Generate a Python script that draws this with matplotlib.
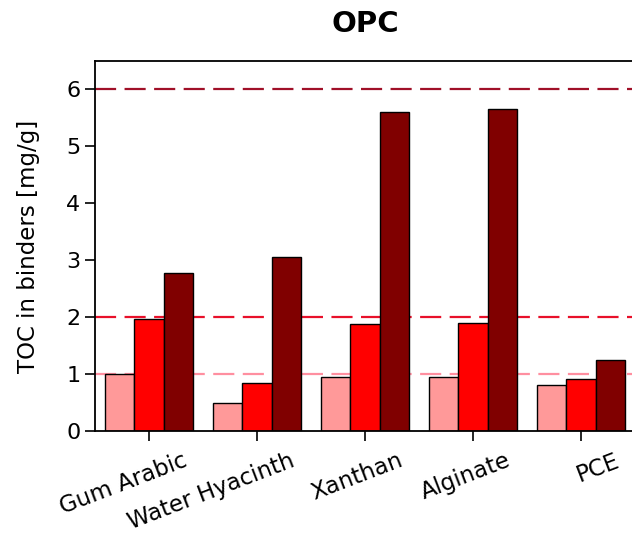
import matplotlib
matplotlib.use("Agg")
import matplotlib.pyplot as plt
import matplotlib.transforms as mtransforms
import numpy as np

# binder names on x axis
binders = ["Gum Arabic", "Water Hyacinth", "Xanthan", "Alginate", "PCE"]

# TOC values [mg/g] for the three series (light, red, dark)
toc_low = [1.0, 0.49, 0.94, 0.95, 0.80]
toc_mid = [1.97, 0.85, 1.88, 1.90, 0.91]
toc_high = [2.78, 3.05, 5.60, 5.65, 1.25]

# reference levels (dashed lines)
ref_levels = [1, 2, 6]

yticks = [0, 1, 2, 3, 4, 5, 6]

colors = ["#ff9999", "#ff0000", "#800000"]
line_colors = ["#ff8fa0", "#e8102a", "#a01028"]

fig = plt.figure(figsize=(6.32, 5.35), dpi=100)
ax = fig.add_axes([95 / 632, 104 / 535, 540 / 632, 370 / 535])

x = np.arange(len(binders))
w = 0.27

# dashed reference lines behind the bars
for lvl, c in zip(ref_levels, line_colors):
    ax.axhline(lvl, color=c, lw=1.6, linestyle=(0, (9.5, 3.8)), zorder=1)

for i, (vals, c) in enumerate(zip([toc_low, toc_mid, toc_high], colors)):
    ax.bar(x + (i - 1) * w, vals, width=w, color=c, edgecolor="black",
           linewidth=1.0, zorder=2)

ax.set_xlim(-0.5, 4.5)
ax.set_ylim(0, 6.5)
ax.set_yticks(yticks)
ax.set_xticks(x)
ax.set_xticklabels([])

# rotated category labels, shifted right of the tick like the original
offset = mtransforms.ScaledTranslation(33 / 100, -18 / 100, fig.dpi_scale_trans)
trans = ax.get_xaxis_transform() + offset
for xi, name in zip(x, binders):
    ax.text(xi, 0, name, transform=trans, rotation=21, ha="right", va="top",
            rotation_mode="anchor", fontsize=16.5)

ax.tick_params(axis="both", direction="out", length=7, width=1.2, labelsize=16)
for s in ax.spines.values():
    s.set_linewidth(1.3)

ax.set_ylabel("TOC in binders [mg/g]", fontsize=16.5, labelpad=19)
ax.set_title("OPC", fontsize=21, fontweight="bold", pad=21)

fig.savefig("out.png", dpi=100)
